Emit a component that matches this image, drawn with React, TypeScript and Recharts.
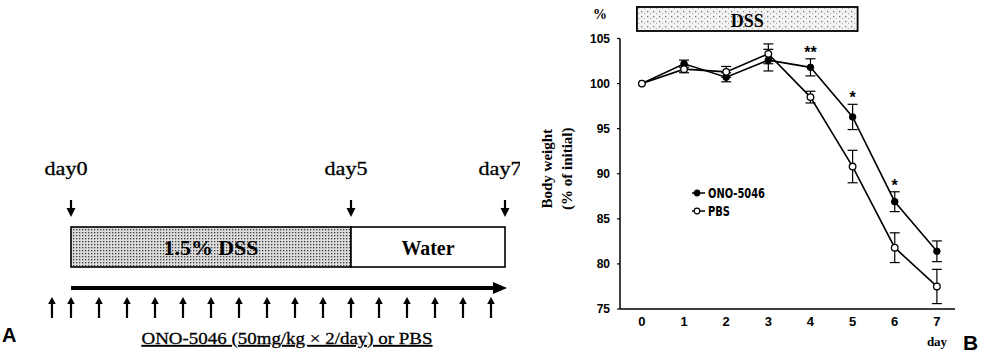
import React from 'react';
import {
  ComposedChart,
  XAxis,
  YAxis,
  ReferenceArea,
  ReferenceLine,
  Line,
  ErrorBar,
  LabelList,
  Legend,
} from 'recharts';

const SERIF = "'Liberation Serif', 'Times New Roman', serif";
const SANS = "'Liberation Sans', Arial, sans-serif";
const NARROW = "'Liberation Sans Narrow', 'DejaVu Sans Condensed', 'Liberation Sans', sans-serif";

// ---------- Panel A (protocol schematic) ----------
const doseDays = [-0.34, 0, 0.5, 1, 1.5, 2, 2.5, 3, 3.5, 4, 4.5, 5, 5.5, 6, 6.5, 7, 7.5];
const phaseNames = ['1.5% DSS', 'Water'];
const phaseStarts = [0, 5];
const phaseEnds = [5, 7.75];
const milestoneLabels = ['day0', 'day5', 'day7'];
const milestoneDays = [0, 5, 7.75];
const treatmentLabel = 'ONO-5046 (50mg/kg × 2/day) or PBS';

// ---------- Panel B (body weight) ----------
const days = [0, 1, 2, 3, 4, 5, 6, 7];
const onoValues = [100, 102.2, 100.7, 102.6, 101.8, 96.3, 86.9, 81.4];
const onoErrors = [0, 0.4, 0.5, 1.2, 0.95, 1.4, 1.1, 1.15];
const pbsValues = [100, 101.6, 101.3, 103.3, 98.5, 90.8, 81.8, 77.5];
const pbsErrors = [0, 0.4, 0.6, 1.1, 0.65, 1.8, 1.65, 1.9];
const significance = ['', '', '', '', '**', '*', '*', ''];
const yTicks = [75, 80, 85, 90, 95, 100, 105];
const dssStart = 0;
const dssEnd = 5;

const aRows = doseDays.map((d) => ({ day: d, row: 0.5 }));

const bRows = days.map((d, i) => ({
  day: d,
  ono: onoValues[i],
  onoErr: onoErrors[i],
  pbs: pbsValues[i],
  pbsErr: pbsErrors[i],
  star: significance[i] || null,
  starTop: significance[i] ? onoValues[i] + onoErrors[i] : null,
}));

// layout constants for the schematic rows (pixels)
const L = {
  labelBaseline: 175,
  downTop: 200,
  downHeadTop: 208,
  downTip: 217,
  boxTop: 227,
  boxBottom: 267,
  boxTextBaseline: 255,
  timelineY: 288,
  upTip: 297,
  upHeadBase: 304,
  upBottom: 318,
};

const milestoneShape = (label: string) => (p: any) => {
  const x = p.x1;
  if (x == null || isNaN(x)) return <g />;
  return (
    <g>
      <text
        x={x - 5}
        y={L.labelBaseline}
        textAnchor="middle"
        fontFamily={SERIF}
        fontSize={19}
        textLength={43}
        lengthAdjust="spacingAndGlyphs"
        fill="#000"
        stroke="#000"
        strokeWidth={0.3}
      >
        {label}
      </text>
      <line x1={x} x2={x} y1={L.downTop} y2={L.downHeadTop + 1} stroke="#000" strokeWidth={2.2} />
      <path d={`M${x - 4.5},${L.downHeadTop} L${x + 4.5},${L.downHeadTop} L${x},${L.downTip} Z`} fill="#000" />
    </g>
  );
};

const doseShape = (p: any) => {
  const x = p.x1;
  if (x == null || isNaN(x)) return <g />;
  return (
    <g>
      <line x1={x} x2={x} y1={L.upHeadBase - 1} y2={L.upBottom} stroke="#000" strokeWidth={2.2} />
      <path d={`M${x - 3.8},${L.upHeadBase} L${x + 3.8},${L.upHeadBase} L${x},${L.upTip} Z`} fill="#000" />
    </g>
  );
};

const phaseShape = (i: number) => (p: any) => (
  <g>
    {i === 0 && (
      <defs>
        <pattern id="dssDotsA" width="3" height="3" patternUnits="userSpaceOnUse">
          <rect width="3" height="3" fill="#dcdcdc" />
          <rect x="1" y="1" width="1.3" height="1.3" fill="#3a3a3a" />
        </pattern>
      </defs>
    )}
    <rect
      x={p.x}
      y={L.boxTop}
      width={p.width}
      height={L.boxBottom - L.boxTop}
      fill={i === 0 ? 'url(#dssDotsA)' : '#fff'}
      stroke="#000"
      strokeWidth={1.6}
    />
    <text
      x={p.x + p.width / 2}
      y={L.boxTextBaseline}
      textAnchor="middle"
      fontFamily={SERIF}
      fontWeight="bold"
      fontSize={20}
      textLength={i === 0 ? 95 : 53}
      lengthAdjust="spacingAndGlyphs"
      fill="#000"
    >
      {phaseNames[i]}
    </text>
  </g>
);

const timelineShape = (p: any) => {
  const x0 = p.x;
  const x1 = p.x + p.width;
  const y = L.timelineY;
  return (
    <g>
      <line x1={x0} x2={x1 - 10} y1={y} y2={y} stroke="#000" strokeWidth={4} />
      <path d={`M${x1 - 12},${y - 6} L${x1 + 2},${y} L${x1 - 12},${y + 6} Z`} fill="#000" />
    </g>
  );
};

// ---------- Panel B helpers ----------
const dssBoxB = (p: any) => (
  <g>
    <defs>
      <pattern id="dssDotsB" width="6" height="5" patternUnits="userSpaceOnUse">
        <rect width="6" height="5" fill="#f3f3f3" />
        <rect x="1" y="1" width="1.3" height="1.3" fill="#777" />
        <rect x="4" y="3" width="1" height="1" fill="#aaa" />
      </pattern>
    </defs>
    <rect x={p.x - 5} y={7} width={p.width + 10} height={24} fill="url(#dssDotsB)" stroke="#000" strokeWidth={1.8} />
    <text x={p.x + p.width / 2} y={27} textAnchor="middle" fontFamily={SERIF} fontWeight="bold" fontSize={18} fill="#000">
      DSS
    </text>
  </g>
);

const starContent = (props: any) => {
  const { value } = props;
  if (!value) return null;
  const vb = props.viewBox || {};
  const x = vb.x ?? props.x;
  const y = vb.y ?? props.y;
  if (x == null || y == null) return null;
  return (
    <text x={x} y={y - 1} textAnchor="middle" fontFamily={SANS} fontWeight="bold" fontSize={16} fill="#000">
      {value}
    </text>
  );
};

const yLabel = (props: any) => {
  const vb = props.viewBox || { x: 60, y: 38, height: 270 };
  const cy = vb.y + vb.height / 2 - 5;
  return (
    <g>
      <text transform={`translate(${vb.x - 28},${cy}) rotate(-90)`} textAnchor="middle" fontFamily={SERIF} fontWeight="bold" fontSize={15} fill="#000">
        Body weight
      </text>
      <text transform={`translate(${vb.x - 8},${cy}) rotate(-90)`} textAnchor="middle" fontFamily={SERIF} fontWeight="bold" fontSize={15} fill="#000">
        (% of initial)
      </text>
    </g>
  );
};

const legendContent = (props: any) => {
  const payload = (props.payload || []).filter((e: any) => e.value === 'ONO-5046' || e.value === 'PBS');
  return (
    <svg width={120} height={40} style={{ display: 'block' }}>
      {payload.map((entry: any, i: number) => {
        const y = 9 + i * 18;
        const filled = entry.value === 'ONO-5046';
        return (
          <g key={entry.value}>
            <line x1={2} x2={15} y1={y} y2={y} stroke="#000" strokeWidth={1.5} />
            <circle cx={7} cy={y} r={2.8} fill={filled ? '#000' : '#fff'} stroke="#000" strokeWidth={1.2} />
            <text
              x={18}
              y={y + 5}
              fontFamily={NARROW}
              fontWeight="bold"
              fontSize={14}
              textLength={filled ? 57 : 22}
              lengthAdjust="spacingAndGlyphs"
              fill="#000"
            >
              {entry.value}
            </text>
          </g>
        );
      })}
    </svg>
  );
};

export default function App() {
  return (
    <div style={{ position: 'absolute', left: 0, top: 0, width: 984, height: 361, background: '#fff', overflow: 'hidden' }}>
      <div style={{ position: 'absolute', left: 0, top: 0 }}>
        <ComposedChart width={520} height={361} data={aRows} margin={{ top: 0, right: 0, bottom: 0, left: 0 }}>
          <XAxis type="number" dataKey="day" domain={[-71 / 56, 449 / 56]} allowDataOverflow hide />
          <YAxis type="number" dataKey="row" domain={[0, 1]} hide />
          {phaseNames.map((n, i) => (
            <ReferenceArea key={n} x1={phaseStarts[i]} x2={phaseEnds[i]} ifOverflow="visible" shape={phaseShape(i)} />
          ))}
          <ReferenceArea x1={phaseStarts[0]} x2={phaseEnds[phaseEnds.length - 1]} ifOverflow="visible" shape={timelineShape} />
          {milestoneLabels.map((m, i) => (
            <ReferenceLine key={m} x={milestoneDays[i]} ifOverflow="visible" shape={milestoneShape(m)} />
          ))}
          {doseDays.map((d, i) => (
            <ReferenceLine key={'dose' + i} x={d} ifOverflow="visible" shape={doseShape} />
          ))}
        </ComposedChart>
      </div>

      <div style={{ position: 'absolute', left: 520, top: 0 }}>
        <ComposedChart width={464} height={361} data={bRows} margin={{ top: 38.5, right: 29, bottom: 21, left: 60 }}>
          <XAxis
            type="number"
            dataKey="day"
            domain={[-0.52, 7.43]}
            ticks={days}
            interval={0}
            allowDataOverflow
            height={31}
            tickLine={false}
            axisLine={{ stroke: '#000', strokeWidth: 1.5 }}
            tick={{ fontSize: 13, fontWeight: 'bold', fill: '#000', fontFamily: SANS }}
          />
          <YAxis
            type="number"
            domain={[75, 105]}
            ticks={yTicks}
            interval={0}
            allowDataOverflow
            width={40}
            tickSize={3}
            tickMargin={7}
            tickLine={{ stroke: '#000', strokeWidth: 1.2 }}
            axisLine={{ stroke: '#000', strokeWidth: 1.5 }}
            tick={{ fontSize: 12, fontWeight: 'bold', fill: '#000', fontFamily: SANS }}
            label={yLabel}
          />
          <ReferenceArea x1={dssStart} x2={dssEnd} ifOverflow="visible" shape={dssBoxB} />
          <Line
            name="ONO-5046"
            type="linear"
            dataKey="ono"
            stroke="#000"
            strokeWidth={1.6}
            dot={{ r: 3.3, fill: '#000', stroke: '#000', strokeWidth: 1 }}
            activeDot={false}
            isAnimationActive={false}
          >
            <ErrorBar dataKey="onoErr" width={5} stroke="#000" strokeWidth={1.2} direction="y" isAnimationActive={false} />
          </Line>
          <Line
            name="PBS"
            type="linear"
            dataKey="pbs"
            stroke="#000"
            strokeWidth={1.6}
            dot={{ r: 3.3, fill: '#fff', stroke: '#000', strokeWidth: 1.3 }}
            activeDot={false}
            isAnimationActive={false}
          >
            <ErrorBar dataKey="pbsErr" width={5} stroke="#000" strokeWidth={1.2} direction="y" isAnimationActive={false} />
          </Line>
          <Line
            name="sig"
            dataKey="starTop"
            legendType="none"
            stroke="none"
            dot={false}
            activeDot={false}
            isAnimationActive={false}
          >
            <LabelList dataKey="star" content={starContent} />
          </Line>
          <Legend
            layout="vertical"
            align="center"
            verticalAlign="middle"
            content={legendContent}
            wrapperStyle={{ left: 170, top: 184, width: 120, height: 40 }}
          />
        </ComposedChart>
      </div>

      <svg width={984} height={361} style={{ position: 'absolute', left: 0, top: 0, pointerEvents: 'none' }}>
        <text x={2} y={342} fontFamily={SANS} fontWeight="bold" fontSize={20} fill="#000">A</text>
        <text
          x={287}
          y={344}
          textAnchor="middle"
          fontFamily={SERIF}
          fontSize={17}
          textLength={291}
          lengthAdjust="spacingAndGlyphs"
          textDecoration="underline"
          fill="#000"
          stroke="#000"
          strokeWidth={0.3}
        >
          {treatmentLabel}
        </text>
        <text x={600} y={19} textAnchor="middle" fontFamily={SERIF} fontWeight="bold" fontSize={14} fill="#000">%</text>
        <text x={937} y={346} textAnchor="middle" fontFamily={SERIF} fontWeight="bold" fontSize={13} fill="#000">day</text>
        <text x={963} y={350} fontFamily={SANS} fontWeight="bold" fontSize={21} fill="#000">B</text>
      </svg>
    </div>
  );
}
